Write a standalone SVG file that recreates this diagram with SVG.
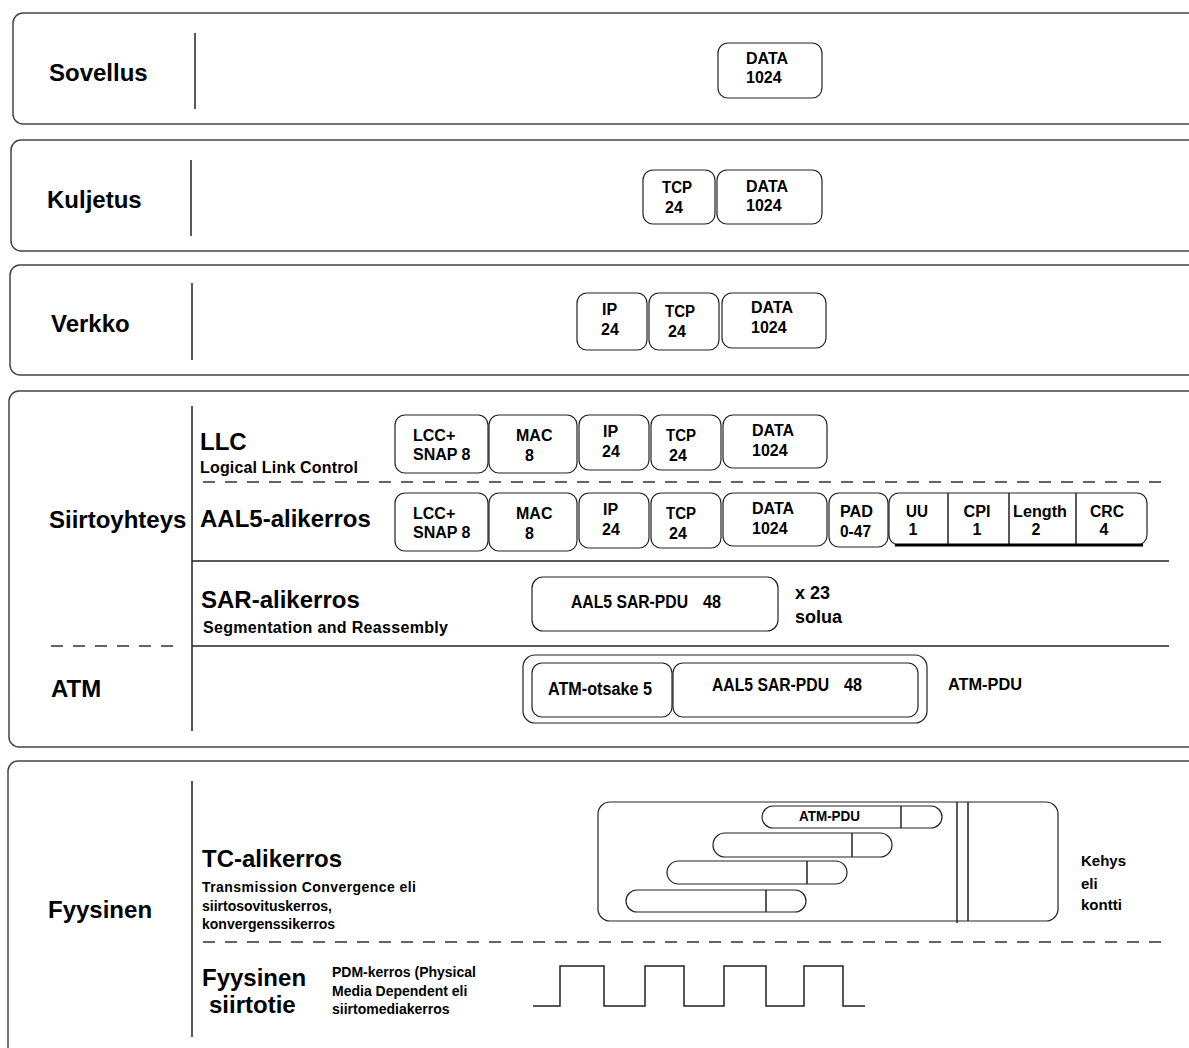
<svg xmlns="http://www.w3.org/2000/svg" width="1189" height="1048" viewBox="0 0 1189 1048">
<style>
.layer{fill:none;stroke:#444;stroke-width:1.5}
.box{fill:#fff;stroke:#222;stroke-width:1.2}
.ln{stroke:#222;stroke-width:1.5;fill:none}
.dash{stroke:#333;stroke-width:1.5;stroke-dasharray:12 10;fill:none}
text{font-family:"Liberation Sans",Arial,sans-serif;font-weight:bold;fill:#000}
.h{font-size:24px}
.s{font-size:16px}
.k{font-size:15px}
.m{font-size:14px}
.c{text-anchor:middle}
</style>
<rect width="1189" height="1048" fill="#fff"/>

<g id="layer-sovellus">
<rect class="layer" x="13" y="13" width="1200" height="111" rx="10"/>
<line class="ln" x1="195" y1="33" x2="195" y2="109"/>
<text class="h" x="49" y="81">Sovellus</text>
</g>
<g id="layer-kuljetus">
<rect class="layer" x="11" y="140" width="1200" height="111" rx="10"/>
<line class="ln" x1="191" y1="160" x2="191" y2="236"/>
<text class="h" x="47" y="208">Kuljetus</text>
</g>
<g id="layer-verkko">
<rect class="layer" x="10" y="265" width="1200" height="110" rx="10"/>
<line class="ln" x1="192" y1="283" x2="192" y2="360"/>
<text class="h" x="51" y="332">Verkko</text>
</g>
<g id="layer-siirtoyhteys">
<rect class="layer" x="9" y="391" width="1200" height="356" rx="10"/>
<line class="ln" x1="192" y1="406" x2="192" y2="731"/>
<text class="h" x="49" y="528">Siirtoyhteys</text>
<text class="h" x="51" y="697">ATM</text>
<text class="h" x="200" y="450">LLC</text>
<text class="s" x="200" y="473" textLength="158" lengthAdjust="spacing">Logical Link Control</text>
<text class="h" x="200" y="527">AAL5-alikerros</text>
<text class="h" x="201" y="608">SAR-alikerros</text>
<text class="s" x="203" y="633" textLength="245" lengthAdjust="spacing">Segmentation and Reassembly</text>
</g>
<g id="layer-fyysinen">
<rect class="layer" x="8" y="761" width="1200" height="320" rx="10"/>
<line class="ln" x1="192" y1="781" x2="192" y2="1037"/>
<text class="h" x="48" y="918">Fyysinen</text>
<text class="h" x="202" y="867">TC-alikerros</text>
<text class="m" x="202" y="892" textLength="214" lengthAdjust="spacing">Transmission Convergence eli</text>
<text class="m" x="202" y="911">siirtosovituskerros,</text>
<text class="m" x="202" y="929">konvergenssikerros</text>
<text class="h" x="202" y="986">Fyysinen</text>
<text class="h" x="209" y="1013">siirtotie</text>
<text class="m" x="332" y="977">PDM-kerros (Physical</text>
<text class="m" x="332" y="996">Media Dependent eli</text>
<text class="m" x="332" y="1014">siirtomediakerros</text>
</g>

<g id="connectors">
<line class="dash" x1="203" y1="482" x2="1162" y2="482"/>
<line class="ln" x1="192" y1="561" x2="1169" y2="561"/>
<line class="ln" x1="192" y1="646" x2="1169" y2="646"/>
<line class="dash" x1="51" y1="646" x2="183" y2="646"/>
<line class="dash" x1="203" y1="942" x2="1167" y2="942"/>
</g>

<g id="sov-data">
<rect class="box" x="718" y="43" width="104" height="55" rx="10"/>
<text class="s" x="746" y="64">DATA</text>
<text class="s" x="746" y="83">1024</text>
</g>

<g id="kul-tcp">
<rect class="box" x="643" y="170" width="72" height="54" rx="10"/>
<text class="s" x="662" y="193" textLength="30" lengthAdjust="spacingAndGlyphs">TCP</text>
<text class="s" x="665" y="213">24</text>
</g>
<g id="kul-data">
<rect class="box" x="717" y="170" width="105" height="54" rx="10"/>
<text class="s" x="746" y="192">DATA</text>
<text class="s" x="746" y="211">1024</text>
</g>

<g id="ver-ip">
<rect class="box" x="577" y="293" width="70" height="57" rx="10"/>
<text class="s" x="602" y="315">IP</text>
<text class="s" x="601" y="335">24</text>
</g>
<g id="ver-tcp">
<rect class="box" x="649" y="293" width="70" height="57" rx="10"/>
<text class="s" x="665" y="317" textLength="30" lengthAdjust="spacingAndGlyphs">TCP</text>
<text class="s" x="668" y="337">24</text>
</g>
<g id="ver-data">
<rect class="box" x="722" y="293" width="104" height="55" rx="10"/>
<text class="s" x="751" y="313">DATA</text>
<text class="s" x="751" y="333">1024</text>
</g>

<g id="llc-lcc">
<rect class="box" x="395" y="415" width="93" height="58" rx="10"/>
<text class="s" x="413" y="441">LCC+</text>
<text class="s" x="413" y="460">SNAP 8</text>
</g>
<g id="llc-mac">
<rect class="box" x="489" y="415" width="88" height="58" rx="10"/>
<text class="s" x="516" y="441">MAC</text>
<text class="s" x="525" y="461">8</text>
</g>
<g id="llc-ip">
<rect class="box" x="579" y="415" width="70" height="55" rx="10"/>
<text class="s" x="603" y="437">IP</text>
<text class="s" x="602" y="457">24</text>
</g>
<g id="llc-tcp">
<rect class="box" x="651" y="415" width="70" height="55" rx="10"/>
<text class="s" x="666" y="441" textLength="30" lengthAdjust="spacingAndGlyphs">TCP</text>
<text class="s" x="669" y="461">24</text>
</g>
<g id="llc-data">
<rect class="box" x="723" y="415" width="104" height="53" rx="10"/>
<text class="s" x="752" y="436">DATA</text>
<text class="s" x="752" y="456">1024</text>
</g>

<g id="aal5-lcc">
<rect class="box" x="395" y="493" width="93" height="58" rx="10"/>
<text class="s" x="413" y="519">LCC+</text>
<text class="s" x="413" y="538">SNAP 8</text>
</g>
<g id="aal5-mac">
<rect class="box" x="489" y="493" width="88" height="58" rx="10"/>
<text class="s" x="516" y="519">MAC</text>
<text class="s" x="525" y="539">8</text>
</g>
<g id="aal5-ip">
<rect class="box" x="579" y="493" width="70" height="55" rx="10"/>
<text class="s" x="603" y="515">IP</text>
<text class="s" x="602" y="535">24</text>
</g>
<g id="aal5-tcp">
<rect class="box" x="651" y="493" width="70" height="55" rx="10"/>
<text class="s" x="666" y="519" textLength="30" lengthAdjust="spacingAndGlyphs">TCP</text>
<text class="s" x="669" y="539">24</text>
</g>
<g id="aal5-data">
<rect class="box" x="723" y="493" width="104" height="53" rx="10"/>
<text class="s" x="752" y="514">DATA</text>
<text class="s" x="752" y="534">1024</text>
</g>
<g id="aal5-pad">
<rect class="box" x="829" y="493" width="59" height="54" rx="10"/>
<text class="s" x="840" y="517" textLength="33" lengthAdjust="spacingAndGlyphs">PAD</text>
<text class="s" x="840" y="537" textLength="31" lengthAdjust="spacingAndGlyphs">0-47</text>
</g>
<g id="aal5-trailer">
<rect class="box" x="889" y="493" width="258" height="52" rx="10"/>
<line class="ln" x1="948" y1="493" x2="948" y2="545"/>
<line class="ln" x1="1009" y1="493" x2="1009" y2="545"/>
<line class="ln" x1="1076" y1="493" x2="1076" y2="545"/>
<line x1="895" y1="545" x2="1143" y2="545" stroke="#000" stroke-width="3"/>
<text class="s" x="906" y="517" textLength="22" lengthAdjust="spacingAndGlyphs">UU</text>
<text class="s c" x="913" y="535">1</text>
<text class="s c" x="977" y="517" textLength="27" lengthAdjust="spacingAndGlyphs">CPI</text>
<text class="s c" x="977" y="535">1</text>
<text class="s c" x="1040" y="517" textLength="54" lengthAdjust="spacingAndGlyphs">Length</text>
<text class="s c" x="1036" y="535">2</text>
<text class="s c" x="1107" y="517" textLength="34" lengthAdjust="spacingAndGlyphs">CRC</text>
<text class="s c" x="1104" y="535">4</text>
</g>

<g id="sar-pdu">
<rect class="box" x="532" y="577" width="246" height="54" rx="11"/>
<text x="571" y="608" font-size="18" textLength="117" lengthAdjust="spacingAndGlyphs">AAL5 SAR-PDU</text>
<text x="703" y="608" font-size="18" textLength="18" lengthAdjust="spacingAndGlyphs">48</text>
</g>
<g id="sar-count">
<text x="795" y="599" font-size="18">x 23</text>
<text x="795" y="623" font-size="18">solua</text>
</g>

<g id="atm-pdu">
<rect class="box" x="523" y="655" width="404" height="68" rx="12"/>
<rect class="box" x="532" y="663" width="140" height="54" rx="10"/>
<rect class="box" x="673" y="663" width="245" height="54" rx="10"/>
<text x="548" y="695" font-size="18" textLength="104" lengthAdjust="spacingAndGlyphs">ATM-otsake 5</text>
<text x="712" y="691" font-size="18" textLength="117" lengthAdjust="spacingAndGlyphs">AAL5 SAR-PDU</text>
<text x="844" y="691" font-size="18" textLength="18" lengthAdjust="spacingAndGlyphs">48</text>
</g>
<g id="atm-pdu-label">
<text x="948" y="690" font-size="17" textLength="74" lengthAdjust="spacingAndGlyphs">ATM-PDU</text>
</g>

<g id="tc-frame">
<rect class="box" x="598" y="802" width="460" height="119" rx="12"/>
<line class="ln" x1="957" y1="802" x2="957" y2="923"/>
<line class="ln" x1="968" y1="802" x2="968" y2="921"/>
<rect class="box" x="762" y="806" width="180" height="22" rx="11"/>
<line class="ln" x1="901" y1="806" x2="901" y2="828"/>
<text x="799" y="821" font-size="14" textLength="61" lengthAdjust="spacingAndGlyphs">ATM-PDU</text>
<rect class="box" x="713" y="833" width="179" height="24" rx="12"/>
<line class="ln" x1="852" y1="833" x2="852" y2="857"/>
<rect class="box" x="667" y="861" width="180" height="23" rx="11.5"/>
<line class="ln" x1="807" y1="861" x2="807" y2="884"/>
<rect class="box" x="626" y="890" width="180" height="22" rx="11"/>
<line class="ln" x1="766" y1="890" x2="766" y2="912"/>
</g>
<g id="tc-label">
<text class="k" x="1081" y="866">Kehys</text>
<text class="k" x="1081" y="889">eli</text>
<text class="k" x="1081" y="910">kontti</text>
</g>

<g id="signal">
<polyline class="ln" points="533,1006 560,1006 560,966 604,966 604,1006 645,1006 645,966 684,966 684,1006 724,1006 724,966 766,966 766,1006 804,1006 804,966 843,966 843,1006 865,1006"/>
</g>
</svg>
